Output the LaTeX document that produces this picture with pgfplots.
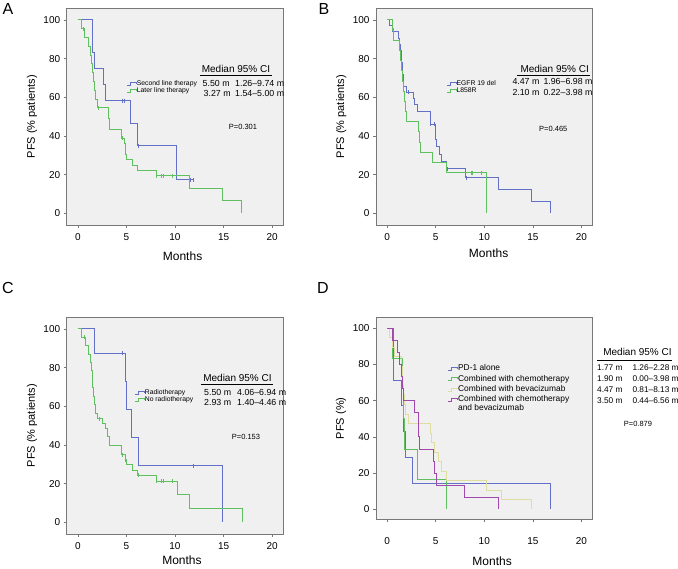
\documentclass[border=0pt]{standalone}
\usepackage{fontspec}
\setmainfont{Liberation Sans}
\usepackage{pgfplots}
\pgfplotsset{compat=1.18}

\definecolor{kmblue}{RGB}{98,112,200}
\definecolor{kmgreen}{RGB}{95,192,95}
\definecolor{kmyellow}{RGB}{222,222,160}
\definecolor{kmpurple}{RGB}{160,72,172}
\definecolor{bgc}{RGB}{240,240,240}
\definecolor{framec}{RGB}{120,120,120}

\pgfplotsset{
  kmaxis/.style={
    scale only axis, width=216.6pt, height=216.7pt,
    xmin=-1.15, xmax=21.15, ymin=-6, ymax=106,
    xtick={0,5,10,15,20}, ytick={0,20,40,60,80,100},
    axis background/.style={fill=bgc},
    axis line style={draw=framec, line width=0.8pt},
    every tick/.style={draw=framec, line width=0.6pt},
    tick align=outside, tick pos=left,
    major tick length=3pt,
    ticklabel style={font=\fontsize{10}{12}\selectfont},
    /pgf/number format/assume math mode=true,
    xticklabel style={yshift=-2pt},
    xlabel=Months,
    xlabel style={font=\fontsize{12}{14}\selectfont, at={(axis description cs:0.535,-0.143)}, anchor=center},
    ylabel style={font=\fontsize{11}{13}\selectfont, at={(axis description cs:-0.160,0.5)}, anchor=center},
    legend cell align=left,
    legend image code/.code={\draw[##1, line width=0.6pt] (0pt,-1.5pt) -- (3pt,-1.5pt) -- (3pt,1.5pt) -- (9pt,1.5pt) -- (9pt,0pt);},
    legend style={draw=none, fill=none, inner sep=0pt, outer sep=0pt, anchor=north west,
      font=\fontsize{6.8}{7.5}\selectfont, row sep=0pt,
      nodes={inner sep=0.35pt, text height=4.8pt, text depth=1.5pt}},
  },
  km/.style={const plot, line width=0.9pt, mark=none},
  cens/.style={only marks, mark=|, mark size=2pt, mark options={line width=0.6pt}, forget plot},
}

\begin{document}
\begin{tikzpicture}
\useasboundingbox (0pt,0pt) rectangle (678pt,-569pt);

% ---------------- Panel A ----------------
\begin{axis}[kmaxis, at={(66.7pt,-8.3pt)}, anchor=north west,
  ylabel={PFS (\% patients)}, legend style={at={(0.278,0.668)}}]
\addplot[km, kmblue] coordinates {(0,100)(1.47,91.7)(1.52,83.3)(1.75,75)(2.63,66.7)(2.84,58.3)(5.39,46.7)(6.11,35)(10.1,17.5)(11.95,17.5)};
\addlegendentry{Second line therapy}
\addplot[km, kmgreen] coordinates {(0,100)(0.34,95.5)(0.68,90.9)(1.1,86.4)(1.3,81.8)(1.42,77.3)(1.52,72.7)(1.62,68.2)(1.72,63.6)(1.85,59.1)(1.98,54.5)(3.1,49.2)(3.3,43.6)(4.44,38.9)(4.78,36.1)(4.85,33.3)(4.92,30.6)(5.0,27.8)(5.67,25)(6.14,22.2)(8.05,19.4)(11.47,12.9)(14.85,6.5)(16.83,0)};
\addlegendentry{Later line therapy}
\addplot[cens, kmblue] coordinates {(4.54,58.3)(4.78,58.3)(6.25,35)(11.55,17.5)(11.85,17.5)};
\addplot[cens, kmgreen] coordinates {(0.61,95.5)(2.15,54.5)(4.55,38.9)(8.12,19.4)(8.63,19.4)(8.8,19.4)(9.76,19.4)};
\end{axis}

% ---------------- Panel B ----------------
\begin{axis}[kmaxis, at={(376pt,-8.3pt)}, anchor=north west,
  ylabel={PFS (\% patients)}, legend style={at={(0.326,0.668)}},
  xlabel style={at={(axis description cs:0.52,-0.128)}}]
\addplot[km, kmblue] coordinates {(0,100)(0.2,96.9)(0.5,93.8)(1.13,90.6)(1.3,87.5)(1.37,84.4)(1.43,81.2)(1.5,78.1)(1.55,75)(1.6,71.9)(1.65,68.8)(1.72,65.6)(1.95,62.5)(2.66,59.4)(2.83,56.2)(3.1,52.9)(4.44,46)(4.95,42.2)(5.0,38.4)(5.1,34.5)(5.4,30.7)(5.6,26.9)(6.14,23)(8.05,18.4)(11.47,12.3)(14.85,6.1)(16.83,0)};
\addlegendentry{EGFR 19 del}
\addplot[km, kmgreen] coordinates {(0,100)(0.55,94.7)(0.65,89.5)(1.23,84.2)(1.4,78.9)(1.5,73.7)(1.6,68.4)(1.7,63.2)(1.82,57.9)(1.87,52.6)(2.0,47.4)(3.17,42.1)(3.28,36.8)(3.41,31.6)(4.71,26.3)(6.14,21.1)(10.17,0)};
\addlegendentry{L858R}
\addplot[cens, kmblue] coordinates {(2.15,62.5)(4.44,46)(4.88,46)(6.2,23)(8.1,18.4)};
\addplot[cens, kmgreen] coordinates {(0.6,94.7)(8.63,21.1)(8.8,21.1)(9.73,21.1)};
\end{axis}

% ---------------- Panel C ----------------
\begin{axis}[kmaxis, at={(66.7pt,-317.3pt)}, anchor=north west,
  ylabel={PFS (\% patients)}, legend style={at={(0.315,0.668)}},
  xlabel style={at={(axis description cs:0.532,-0.12)}}]
\addplot[km, kmblue] coordinates {(0,100)(1.67,87.5)(4.95,72.9)(5.0,58.3)(5.56,43.7)(6.2,29.2)(14.9,0)};
\addlegendentry{Radiotherapy}
\addplot[km, kmgreen] coordinates {(0,100)(0.37,95.7)(0.75,91.3)(1.13,87)(1.28,82.6)(1.38,78.3)(1.45,73.9)(1.52,69.6)(1.6,65.2)(1.68,60.9)(1.78,56.5)(1.98,53.5)(2.5,51.1)(2.85,48.6)(3.05,44.5)(3.3,39.6)(4.44,35)(4.85,32.4)(5.05,29.7)(5.67,27)(6.14,24.3)(8.1,21.3)(10.27,14.2)(11.47,7.1)(16.9,0)};
\addlegendentry{No radiotherapy}
\addplot[cens, kmblue] coordinates {(4.54,87.5)(11.9,29.2)};
\addplot[cens, kmgreen] coordinates {(0.68,95.7)(2.2,53.5)(4.54,35)(4.9,32.4)(6.2,24.3)(8.12,21.3)(8.63,21.3)(8.8,21.3)(9.76,21.3)};
\end{axis}

% ---------------- Panel D ----------------
\begin{axis}[kmaxis, at={(376pt,-317.3pt)}, anchor=north west,
  height=202pt, ymin=-5.5, ymax=106,
  xticklabel style={yshift=-10pt},
  xlabel style={at={(axis description cs:0.536,-0.206)}},
  ylabel style={at={(axis description cs:-0.162,0.5)}},
  ylabel={PFS (\%)},
  legend style={at={(0.332,0.768)}, font=\fontsize{8.4}{9}\selectfont, row sep=1.1pt,
    nodes={inner sep=0.6pt, text height=6.2pt, text depth=1.8pt}}]
\addplot[km, kmblue] coordinates {(0,100)(0.61,71.4)(1.47,57.1)(1.64,42.9)(1.88,28.6)(2.56,14.3)(16.83,0)};
\addlegendentry{PD-1 alone}
\addplot[km, kmgreen] coordinates {(0,100)(0.55,83.3)(1.57,66.7)(1.64,50)(1.8,33.3)(3.07,16.7)(6.14,0)};
\addlegendentry{Combined with chemotherapy}
\addplot[km, kmyellow] coordinates {(0,100)(0.2,94.7)(0.5,89.5)(0.7,84.2)(1.5,78.9)(1.55,73.7)(1.6,68.4)(1.65,63.2)(1.75,57.9)(1.9,52.6)(2.15,47.4)(4.44,42.1)(4.57,36.8)(4.88,31.6)(5.32,26.3)(5.56,21.1)(6.14,15.8)(10.17,10.5)(11.8,5.3)(14.85,0)};
\addlegendentry{Combined with bevacizumab}
\addplot[km, kmpurple] coordinates {(0,100)(0.55,93.3)(1.02,86.7)(1.3,80)(1.47,73.3)(1.6,66.7)(1.7,60)(2.83,53.3)(3.17,46.7)(3.25,40)(3.34,33.3)(4.78,26.7)(4.88,20)(5.05,13.3)(7.95,6.7)(11.43,0)};
\addlegendentry{\begin{tabular}[t]{@{}l@{}}Combined with chemotherapy\\and bevacizumab\end{tabular}}
\end{axis}

% ---------------- Panel letters ----------------
\node[font=\fontsize{16}{18}\selectfont] at (8pt,-9.5pt) {A};
\node[font=\fontsize{16}{18}\selectfont] at (324pt,-9.5pt) {B};
\node[font=\fontsize{16}{18}\selectfont] at (8pt,-288pt) {C};
\node[font=\fontsize{16}{18}\selectfont] at (323pt,-288pt) {D};

% ---------------- Median tables ----------------
\tikzset{medhead/.style={font=\fontsize{10}{12}\selectfont, inner sep=0pt},
         medrow/.style={font=\fontsize{8.8}{10}\selectfont, inner sep=0pt, anchor=west},
         medrowD/.style={font=\fontsize{8.3}{10}\selectfont, inner sep=0pt, anchor=west},
         pval/.style={font=\fontsize{7.5}{9}\selectfont, inner sep=0pt}}
% A
\node[medhead] at (236pt,-69.3pt) {Median 95\% CI};
\draw[line width=0.6pt] (200pt,-75.7pt) -- (272pt,-75.7pt);
\node[medrow] at (202.5pt,-83.3pt) {5.50 m};
\node[medrow] at (235pt,-83.3pt) {1.26--9.74 m};
\node[medrow] at (203.5pt,-93.3pt) {3.27 m};
\node[medrow] at (235pt,-93.3pt) {1.54--5.00 m};
\node[pval] at (243pt,-127pt) {P=0.301};
% B
\node[medhead] at (554.7pt,-68.5pt) {Median 95\% CI};
\draw[line width=0.6pt] (517pt,-75pt) -- (590pt,-75pt);
\node[medrow] at (512.3pt,-81.7pt) {4.47 m};
\node[medrow] at (543.3pt,-81.7pt) {1.96--6.98 m};
\node[medrow] at (512.3pt,-92.3pt) {2.10 m};
\node[medrow] at (543.3pt,-92.3pt) {0.22--3.98 m};
\node[pval] at (553.3pt,-129pt) {P=0.465};
% C
\node[medhead] at (237.5pt,-378.3pt) {Median 95\% CI};
\draw[line width=0.6pt] (201pt,-384.5pt) -- (273pt,-384.5pt);
\node[medrow] at (204pt,-392.3pt) {5.50 m};
\node[medrow] at (237pt,-392.3pt) {4.06--6.94 m};
\node[medrow] at (204pt,-402.3pt) {2.93 m};
\node[medrow] at (237pt,-402.3pt) {1.40--4.46 m};
\node[pval] at (246pt,-436.7pt) {P=0.153};
% D
\node[medhead] at (637.5pt,-352pt) {Median 95\% CI};
\draw[line width=0.6pt] (597pt,-360pt) -- (672pt,-360pt);
\node[medrowD] at (597pt,-367.3pt) {1.77 m};
\node[medrowD] at (632.3pt,-367.3pt) {1.26--2.28 m};
\node[medrowD] at (597pt,-378.3pt) {1.90 m};
\node[medrowD] at (632.3pt,-378.3pt) {0.00--3.98 m};
\node[medrowD] at (597pt,-389.3pt) {4.47 m};
\node[medrowD] at (632.3pt,-389.3pt) {0.81--8.13 m};
\node[medrowD] at (597pt,-400.7pt) {3.50 m};
\node[medrowD] at (632.3pt,-400.7pt) {0.44--6.56 m};
\node[pval] at (638pt,-424pt) {P=0.879};
\end{tikzpicture}
\end{document}
